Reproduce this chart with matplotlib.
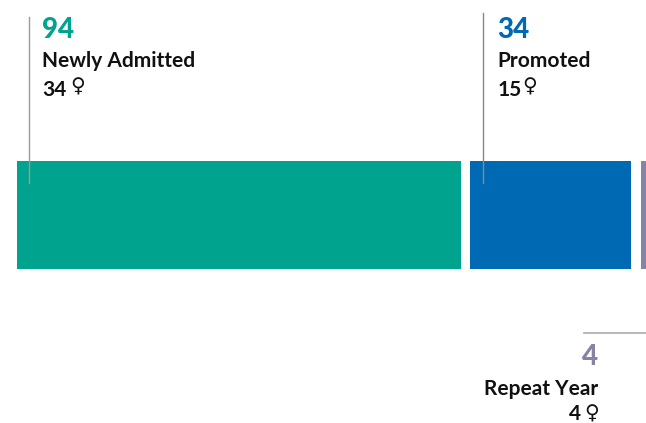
import matplotlib
matplotlib.use('Agg')
import matplotlib.pyplot as plt
from matplotlib.lines import Line2D

# student counts by category
categories = ['Newly Admitted', 'Promoted', 'Repeat Year']
totals = [94, 34, 4]
women = [34, 15, 4]
colors = ['#00a38d', '#0069b4', '#8584a4']

W, H = 646, 423
PX_PER_STUDENT = 4.72
GAP = 9.7 / PX_PER_STUDENT
LEFT = 17

plt.rcParams['font.family'] = ['Lato', 'DejaVu Sans']


def px(x, y):
    return x / W, 1 - y / H


fig = plt.figure(figsize=(W / 100, H / 100), dpi=100)
ax = fig.add_axes([0, 0, 1, 1])
ax.set_xlim(-LEFT / PX_PER_STUDENT, (W - LEFT) / PX_PER_STUDENT)
ax.set_ylim(H, 0)
ax.axis('off')

# stacked bar with small gaps
start = 0
for total, color in zip(totals, colors):
    ax.barh(215, total, height=108, left=start, color=color, linewidth=0)
    start += total + GAP


def label(x, category, total, count, color, y0):
    fig.text(*px(x, y0 + 0.5), str(total), color=color, fontsize=20, fontweight='black',
             ha='left', va='center')
    fig.text(*px(x, y0 + 32), category, color='#111111', fontsize=15, fontweight='bold',
             ha='left', va='center')
    fig.text(*px(x, y0 + 61), str(count), color='#111111', fontsize=15, fontweight='bold',
             ha='left', va='center')


# callout lines
fig.add_artist(Line2D([29 / W, 29 / W], [1 - 17 / H, 1 - 183 / H], color='#9a9a9a', lw=1))
fig.add_artist(Line2D([483 / W, 483 / W], [1 - 13 / H, 1 - 183 / H], color='#888888', lw=1))
fig.add_artist(Line2D([584 / W, 646 / W], [1 - 333 / H, 1 - 333 / H], color='#aaaaaa', lw=1.2))

label(42, categories[0], totals[0], women[0], colors[0], 29)
label(497.5, categories[1], totals[1], women[1], colors[1], 29)

# female signs placed next to the counts
sign = dict(color='#111111', fontsize=14.5, fontweight='bold', family='DejaVu Sans', ha='center', va='center')
fig.text(*px(78, 86.5), '\u2640', **sign)
fig.text(*px(530, 86.5), '\u2640', **sign)

# repeat year label is right aligned under the bar
fig.text(*px(598, 356.5), str(totals[2]), color=colors[2], fontsize=20, fontweight='black', ha='right', va='center')
fig.text(*px(598, 388.5), categories[2], color='#111111', fontsize=15, fontweight='bold', ha='right', va='center')
fig.text(*px(581, 413.5), str(women[2]), color='#111111', fontsize=15, fontweight='bold', ha='right', va='center')
fig.text(*px(592, 414), '\u2640', **sign)

fig.savefig('out.png', dpi=100)
